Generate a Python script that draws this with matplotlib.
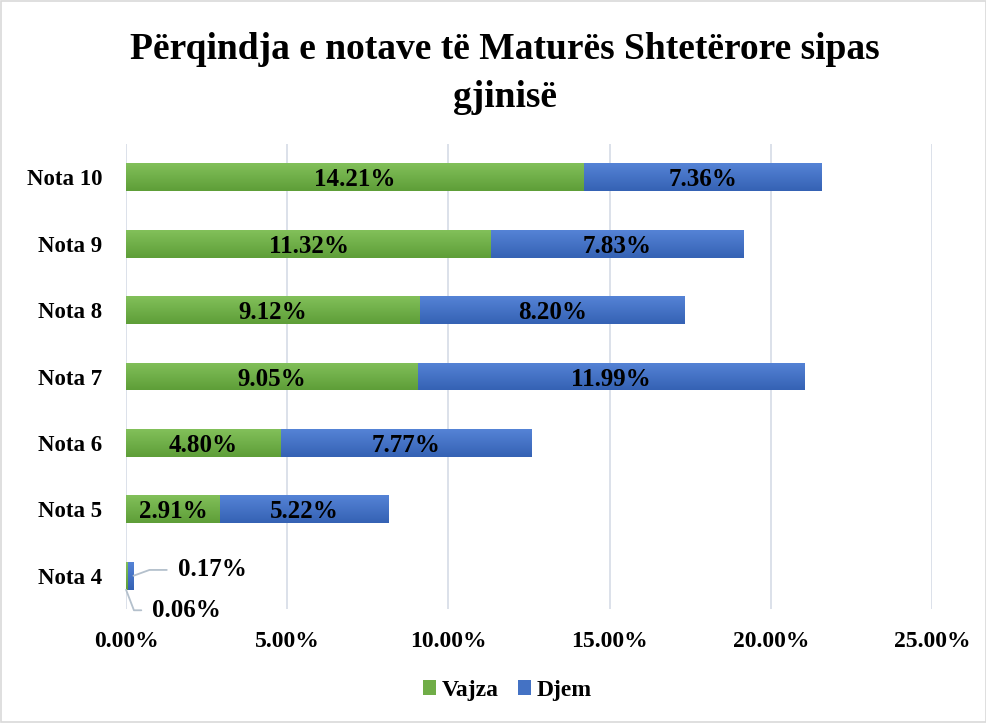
import matplotlib
matplotlib.use("Agg")
import matplotlib.pyplot as plt
import matplotlib.ticker as mtick
import numpy as np
from matplotlib.colors import LinearSegmentedColormap
from matplotlib.patches import Rectangle

plt.rcParams.update({
    "font.family": ["Liberation Serif", "DejaVu Serif"],
    "font.weight": "bold",
    "font.size": 17,
})

grades = ["Nota 4", "Nota 5", "Nota 6", "Nota 7", "Nota 8", "Nota 9", "Nota 10"]
vajza = [0.06, 2.91, 4.80, 9.05, 9.12, 11.32, 14.21]
djem = [0.17, 5.22, 7.77, 11.99, 8.20, 7.83, 7.36]
x_ticks = [0, 5, 10, 15, 20, 25]
title_lines = ["Përqindja e notave të Maturës Shtetërore sipas", "gjinisë"]

GREEN, BLUE = "#70AD47", "#4472C4"
GREEN_TOP, GREEN_BOT = "#82C05A", "#5E9E38"
BLUE_TOP, BLUE_BOT = "#5583D6", "#3562B4"
GRID = "#D9DEE8"
LEADER = "#B4C0CC"
LBL = 18


def shade(ax, bars, top, bottom):
    # vertical gradient fill clipped to each bar
    cmap = LinearSegmentedColormap.from_list("g", [top, bottom])
    grad = np.linspace(0, 1, 64).reshape(-1, 1)
    for b in bars:
        x0, y0 = b.get_x(), b.get_y()
        w, h = b.get_width(), b.get_height()
        im = ax.imshow(grad, cmap=cmap, aspect="auto", origin="upper",
                       extent=[x0, x0 + w, y0, y0 + h], zorder=b.get_zorder())
        im.set_clip_path(b)


fig = plt.figure(figsize=(9.87, 7.23), dpi=100)
ax = fig.add_axes([0.1277, 0.1577, 0.8166, 0.6431])
y = np.arange(len(grades))
h = 0.42

b1 = ax.barh(y, vajza, height=h, color=GREEN, label="Vajza", zorder=3)
b2 = ax.barh(y, djem, left=vajza, height=h, color=BLUE, label="Djem", zorder=3)
shade(ax, b1, GREEN_TOP, GREEN_BOT)
shade(ax, b2, BLUE_TOP, BLUE_BOT)

# value labels centred in each segment (except the tiny Nota 4 ones)
for i in range(1, len(grades)):
    ax.text(vajza[i] / 2, y[i], f"{vajza[i]:.2f}%", ha="center",
            va="center_baseline", fontsize=LBL, fontweight="bold", zorder=5)
    ax.text(vajza[i] + djem[i] / 2, y[i], f"{djem[i]:.2f}%", ha="center",
            va="center_baseline", fontsize=LBL, fontweight="bold", zorder=5)

ax.annotate(f"{djem[0]:.2f}%", xy=(vajza[0] + djem[0], y[0]), xytext=(32, 6),
            textcoords="offset points", ha="left", va="center_baseline",
            fontsize=LBL, fontweight="bold",
            arrowprops=dict(arrowstyle="-", color=LEADER, lw=1.3, shrinkA=6,
                            shrinkB=0,
                            connectionstyle="angle,angleA=0,angleB=20"))
ax.annotate(f"{vajza[0]:.2f}%", xy=(0, y[0] - h / 2), xytext=(19, -13),
            textcoords="offset points", ha="left", va="center_baseline",
            fontsize=LBL, fontweight="bold",
            arrowprops=dict(arrowstyle="-", color=LEADER, lw=1.3, shrinkA=6,
                            shrinkB=0,
                            connectionstyle="angle,angleA=0,angleB=-69"))

ax.set_xlim(0, 25)
ax.set_ylim(-0.5, len(grades) - 0.5)
ax.set_xticks(x_ticks)
ax.xaxis.set_major_formatter(mtick.FuncFormatter(lambda v, _: f"{v:.2f}%"))
ax.set_yticks(y)
ax.set_yticklabels(grades)
ax.tick_params(axis="y", length=0, pad=17, labelsize=16.5)
ax.tick_params(axis="x", length=0, pad=16, labelsize=17)
for s in ax.spines.values():
    s.set_visible(False)
ax.grid(axis="x", color=GRID, lw=1.3, zorder=0)
ax.set_axisbelow(True)

# two-line title, baselines placed separately
for line, yb in zip(title_lines, [0.918, 0.852]):
    fig.text(0.5117, yb, line, ha="center", va="baseline", fontsize=27,
             fontweight="bold")

fig.legend(handles=[b1, b2], loc="center", bbox_to_anchor=(0.514, 0.045), ncol=2,
           frameon=False, fontsize=17, handlelength=0.55, handleheight=0.55,
           handletextpad=0.25, columnspacing=0.8)

fig.patches.append(Rectangle((0.001, 0.001), 0.998, 0.998, transform=fig.transFigure,
                             fill=False, edgecolor="#D9D9D9", lw=1.2))

fig.savefig("out.png", dpi=100)
